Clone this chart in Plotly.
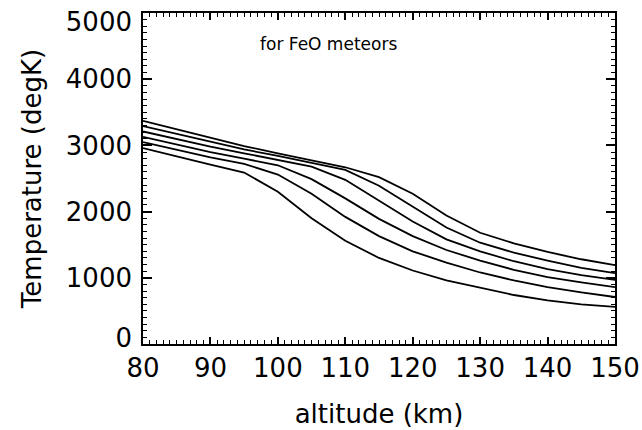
import plotly.graph_objects as go

altitude = [80, 85, 90, 95, 100, 105, 110, 115, 120, 125, 130, 135, 140, 145, 150]

temp_1 = [2960, 2830, 2710, 2590, 2300, 1900, 1560, 1300, 1110, 960, 850, 740, 660, 600, 560]
temp_2 = [3050, 2930, 2820, 2720, 2560, 2270, 1920, 1630, 1400, 1230, 1080, 960, 860, 780, 710]
temp_3 = [3130, 3010, 2900, 2800, 2700, 2490, 2200, 1890, 1630, 1420, 1260, 1120, 1010, 930, 860]
temp_4 = [3210, 3090, 2980, 2880, 2780, 2680, 2480, 2170, 1850, 1580, 1400, 1250, 1130, 1040, 970]
temp_5 = [3290, 3170, 3050, 2940, 2840, 2740, 2630, 2390, 2070, 1760, 1530, 1380, 1260, 1150, 1070]
temp_6 = [3370, 3240, 3110, 2990, 2880, 2770, 2670, 2520, 2270, 1940, 1680, 1520, 1390, 1280, 1190]

series = [temp_1, temp_2, temp_3, temp_4, temp_5, temp_6]

x_ticks = [80, 90, 100, 110, 120, 130, 140, 150]
y_ticks = [0, 1000, 2000, 3000, 4000, 5000]
y_tick_text = ["0", "1000", "2000", "3000", "4000", "5000"]

y_range = [0, 5000]
# like the original, the end labels sit slightly inside the frame
span = y_range[1] - y_range[0]
y_label_pos = list(y_ticks)
y_label_pos[0] = y_ticks[0] + 0.018 * span
y_label_pos[-1] = y_ticks[-1] - 0.027 * span

fig = go.Figure()
for s in series:
    fig.add_trace(go.Scatter(x=altitude, y=s, mode="lines",
                             line=dict(color="black", width=1.8),
                             showlegend=False, hoverinfo="skip"))
# invisible traces to anchor the extra axes
fig.add_trace(go.Scatter(x=[altitude[0]], y=[temp_1[0]], xaxis="x2", yaxis="y2",
                         mode="markers", marker=dict(opacity=0),
                         showlegend=False, hoverinfo="skip"))
fig.add_trace(go.Scatter(x=[altitude[0]], y=[temp_1[0]], xaxis="x", yaxis="y3",
                         mode="markers", marker=dict(opacity=0),
                         showlegend=False, hoverinfo="skip"))

font = "DejaVu Sans"
tf = dict(family=font, size=26, color="black")

fig.update_layout(
    width=642, height=430,
    margin=dict(l=143, r=27, t=13, b=86, autoexpand=False),
    paper_bgcolor="white", plot_bgcolor="white",
    xaxis=dict(
        range=[80, 150], tickvals=x_ticks, automargin=False,
        showline=True, linecolor="black", linewidth=2,
        showgrid=False, zeroline=False,
        ticks="inside", ticklen=7, tickcolor="black", tickwidth=1.5,
        minor=dict(dtick=1, ticks="inside", ticklen=4, tickcolor="black", tickwidth=1),
        tickfont=tf, ticklabelstandoff=0,
        title=dict(text="altitude (km)", font=tf, standoff=23),
    ),
    yaxis=dict(
        range=y_range, tickvals=y_ticks, automargin=False,
        showline=True, linecolor="black", linewidth=2,
        showgrid=False, zeroline=False, showticklabels=False,
        ticks="inside", ticklen=9, tickcolor="black", tickwidth=1.5,
        minor=dict(dtick=100, ticks="inside", ticklen=4, tickcolor="black", tickwidth=1),
    ),
    yaxis3=dict(
        overlaying="y", anchor="x", side="left", matches="y", range=y_range,
        tickvals=y_label_pos, ticktext=y_tick_text, automargin=False,
        showline=False, showgrid=False, zeroline=False, ticks="",
        tickfont=tf, ticklabeloverflow="allow", ticklabelstandoff=10,
        title=dict(text="Temperature (degK)", font=tf, standoff=16),
    ),
    xaxis2=dict(
        overlaying="x", side="top", matches="x", range=[80, 150], tickvals=x_ticks,
        automargin=False,
        showline=True, linecolor="black", linewidth=2,
        showgrid=False, zeroline=False, showticklabels=False,
        ticks="inside", ticklen=7, tickcolor="black", tickwidth=1.5,
        minor=dict(dtick=1, ticks="inside", ticklen=4, tickcolor="black", tickwidth=1),
    ),
    yaxis2=dict(
        overlaying="y", side="right", matches="y", range=y_range, tickvals=y_ticks,
        automargin=False,
        showline=True, linecolor="black", linewidth=2,
        showgrid=False, zeroline=False, showticklabels=False,
        ticks="inside", ticklen=9, tickcolor="black", tickwidth=1.5,
        minor=dict(dtick=100, ticks="inside", ticklen=4, tickcolor="black", tickwidth=1),
    ),
)

fig.add_annotation(text="for FeO meteors", xref="paper", yref="paper",
                   x=0.243, y=0.905, xanchor="left", yanchor="middle",
                   showarrow=False, font=dict(family=font, size=17, color="black"))

fig.write_html("out.html")
